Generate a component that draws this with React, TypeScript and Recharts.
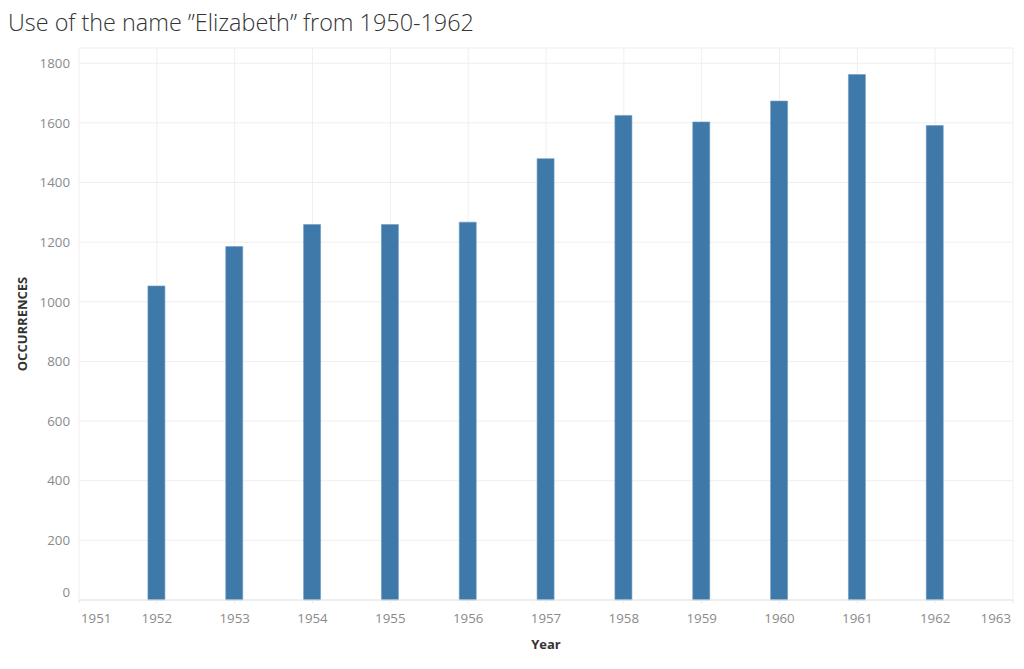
import React from "react";
import { BarChart, Bar, XAxis, YAxis, CartesianGrid } from "recharts";

const years = [1952, 1953, 1954, 1955, 1956, 1957, 1958, 1959, 1960, 1961, 1962];
const occurrences = [1053, 1185, 1259, 1259, 1267, 1480, 1625, 1603, 1673, 1762, 1591];
const xTicks = [1951, 1952, 1953, 1954, 1955, 1956, 1957, 1958, 1959, 1960, 1961, 1962, 1963];
const yTicks = [0, 200, 400, 600, 800, 1000, 1200, 1400, 1600, 1800];
const titleText = "Use of the name \u201dElizabeth\u201d from 1950-1962";

const data = years.map((y, i) => ({ year: y, value: occurrences[i] }));

const FONT = "'Open Sans', 'DejaVu Sans', sans-serif";
const TICK_COLOR = "#8a8a8a";

const XTick = (props: any) => {
  const { x, y, payload, index } = props;
  const last = xTicks.length - 1;
  let anchor = "middle";
  let dx = 0;
  if (index === 0) {
    anchor = "start";
    dx = 2;
  } else if (index === last) {
    anchor = "end";
    dx = -2;
  }
  return (
    <text x={x + dx} y={y} dy="0.71em" textAnchor={anchor} fill={TICK_COLOR} fontSize={13.3} fontFamily={FONT}>
      {payload.value}
    </text>
  );
};

const YTick = (props: any) => {
  const { x, y, payload } = props;
  const shift = payload.value === 0 ? -8 : 0;
  return (
    <text x={x} y={y + shift} dy="0.355em" textAnchor="end" fill={TICK_COLOR} fontSize={13.3} fontFamily={FONT}>
      {payload.value}
    </text>
  );
};

export default function App() {
  return (
    <div style={{ position: "fixed", left: 0, top: 0, width: 1024, height: 669, background: "#fff" }}>
      <div
        style={{
          position: "absolute",
          left: 8,
          top: 6,
          fontFamily: FONT,
          fontWeight: 300,
          fontSize: 23.4,
          color: "#333",
          whiteSpace: "nowrap",
          lineHeight: "32px",
        }}
      >
        {titleText}
      </div>
      <BarChart
        width={1024}
        height={669}
        data={data}
        margin={{ top: 48, right: 11, bottom: 8, left: 0 }}
        style={{ position: "absolute", left: 0, top: 0 }}
      >
        <CartesianGrid stroke="#efefef" strokeWidth={1} />
        <XAxis
          dataKey="year"
          type="number"
          domain={[1951, 1963]}
          ticks={xTicks}
          interval={0}
          height={61}
          tickSize={3}
          tickMargin={11}
          stroke="#e6e6e6"
          tick={<XTick />}
          label={{
            value: "Year",
            position: "insideBottom",
            offset: 12,
            fill: "#333",
            fontSize: 13,
            fontWeight: 700,
            fontFamily: FONT,
          }}
        />
        <YAxis
          type="number"
          domain={[0, 1851]}
          ticks={yTicks}
          interval={0}
          width={79}
          axisLine={false}
          tickLine={false}
          tickSize={0}
          tickMargin={9}
          tick={<YTick />}
          label={{
            value: "OCCURRENCES",
            angle: -90,
            position: "insideLeft",
            offset: 22,
            fill: "#333",
            fontSize: 13,
            fontWeight: 700,
            fontFamily: FONT,
            style: { textAnchor: "middle" },
          }}
        />
        <Bar dataKey="value" fill="#3e79aa" stroke="#6b9bc4" strokeWidth={0.6} barSize={17} isAnimationActive={false} />
      </BarChart>
    </div>
  );
}
